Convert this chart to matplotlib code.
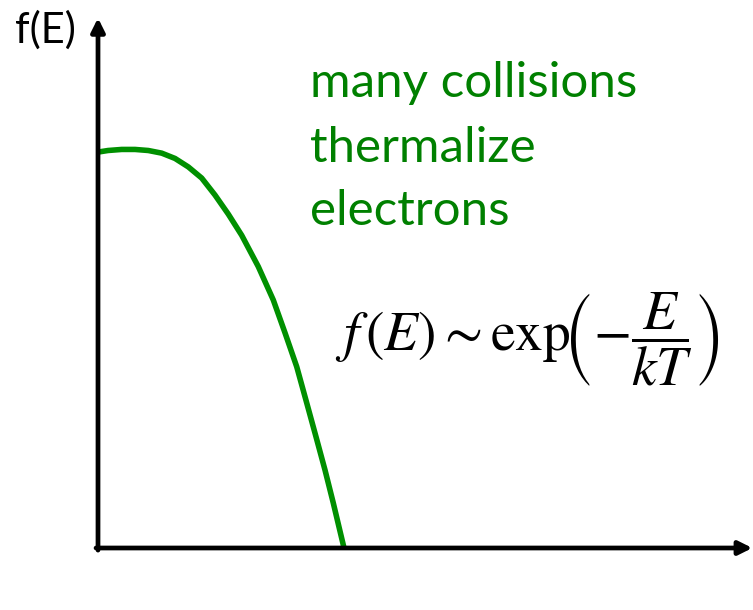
import matplotlib.pyplot as plt

# curve (E in arbitrary units, f(E) normalised)
energy = [0.0, 0.153, 0.362, 0.565, 0.768, 0.973, 1.176, 1.379, 1.583, 1.786,
          1.989, 2.194, 2.447, 2.676, 2.855, 3.034, 3.186, 3.328, 3.466, 3.592, 3.756]
f_e = [0.747, 0.750, 0.752, 0.752, 0.750, 0.745, 0.735, 0.719, 0.698, 0.666,
       0.630, 0.590, 0.531, 0.468, 0.406, 0.342, 0.274, 0.210, 0.147, 0.085, 0.0]

note_lines = ["many collisions", "thermalize", "electrons"]
y_label = "f(E)"
formula = r"$f\,(E) \sim \mathrm{exp}\!\left(-\dfrac{E}{kT}\right)$"

plt.rcParams['mathtext.fontset'] = 'stix'

fig = plt.figure(figsize=(7.53, 6.10), dpi=100)
# origin of the sketch sits at pixel (98, 548)
ax = fig.add_axes([98 / 753, 62 / 610, 655 / 753, 530 / 610])
ax.set_xlim(0, 10)
ax.set_ylim(0, 1)
ax.axis('off')

# axes as arrows
arrow = dict(arrowstyle='-|>', lw=3.4, color='black', mutation_scale=20, shrinkA=0, shrinkB=0)
ax.annotate('', xy=(9.99, 0), xytext=(-0.03, 0), arrowprops=arrow, annotation_clip=False)
ax.annotate('', xy=(0, 1.0), xytext=(0, -0.004), arrowprops=arrow, annotation_clip=False)

ax.plot(energy, f_e, color='#009000', lw=4, solid_capstyle='butt', clip_on=False)

ax.text(-1.27, 0.953, y_label, fontsize=30, family='Lato', va='baseline', ha='left')

baselines = [0.851, 0.728, 0.609]
for line, yb in zip(note_lines, baselines):
    ax.text(3.24, yb, line, fontsize=35.5, family='Lato', color='#008000', va='baseline', ha='left')

ax.text(3.62, 0.392, formula, fontsize=40, va='center', ha='left')

fig.savefig('out.png', dpi=100)
